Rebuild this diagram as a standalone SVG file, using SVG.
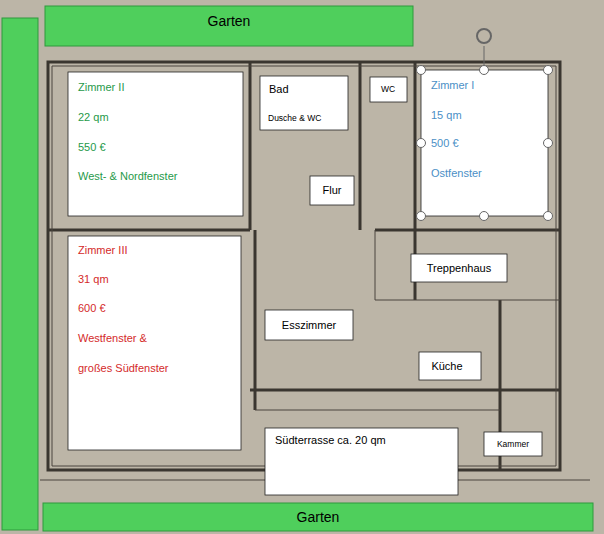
<svg xmlns="http://www.w3.org/2000/svg" width="604" height="534" viewBox="0 0 604 534">
<style>
text{font-family:"Liberation Sans",Arial,sans-serif;font-size:11px;fill:#000}
text.s{font-size:8.5px}
text.l{font-size:14px}
.g{fill:#4fcf5c;stroke:#2f9a3c;stroke-width:1}
.b{fill:#fff;stroke:#222;stroke-width:0.8}
.wall{fill:none;stroke:#3a3630;stroke-width:3}
.thin{fill:none;stroke:#4a453e;stroke-width:1}
.gr{fill:#1f9a4a}.bl{fill:#4b8fc6}.rd{fill:#d42a2a}
.h{fill:#fff;stroke:#666;stroke-width:1}
</style>
<rect width="604" height="534" fill="#bcb5a7"/>
<g id="plan">
<path class="wall" d="M48 62H560V470H48Z"/>
<path class="wall" d="M250 62V230M250 230H48M360 62V230M250 390H560M415 62V300M375 230H560M255 230V410M500 300V470"/>
<path class="thin" d="M52 66H556V466H52ZM375 230V300H560M40 480H590M255 410H500"/>
</g>
<g id="garten-links"><rect class="g" x="2" y="18" width="36" height="512"/></g>
<g id="garten-oben"><rect class="g" x="45" y="6" width="368" height="40"/><text class="l" x="229" y="26" text-anchor="middle">Garten</text></g>
<g id="garten-unten"><rect class="g" x="43" y="503" width="550" height="28"/><text class="l" x="318" y="522" text-anchor="middle">Garten</text></g>
<g id="zimmer2"><rect class="b" x="68" y="72" width="175" height="144"/>
<text class="gr" x="78" y="91">Zimmer II</text><text class="gr" x="78" y="121">22 qm</text><text class="gr" x="78" y="151">550 €</text><text class="gr" x="78" y="180">West- &amp; Nordfenster</text></g>
<g id="bad"><rect class="b" x="260" y="76" width="88" height="54"/><text x="269" y="93">Bad</text><text class="s" x="268" y="121">Dusche &amp; WC</text></g>
<g id="wc"><rect class="b" x="370" y="77" width="37" height="25"/><text class="s" x="388" y="92" text-anchor="middle">WC</text></g>
<g id="zimmer1"><rect class="b" x="421" y="70" width="127" height="146"/>
<text class="bl" x="431" y="89">Zimmer I</text><text class="bl" x="431" y="119">15 qm</text><text class="bl" x="431" y="147">500 €</text><text class="bl" x="431" y="177">Ostfenster</text>
<path d="M484 70V46" stroke="#666"/>
<circle cx="484" cy="36" r="7" fill="none" stroke="#666" stroke-width="2"/>
<circle class="h" cx="421" cy="70" r="4.5"/><circle class="h" cx="484" cy="70" r="4.5"/><circle class="h" cx="548" cy="70" r="4.5"/>
<circle class="h" cx="421" cy="143" r="4.5"/><circle class="h" cx="548" cy="143" r="4.5"/>
<circle class="h" cx="421" cy="216" r="4.5"/><circle class="h" cx="484" cy="216" r="4.5"/><circle class="h" cx="548" cy="216" r="4.5"/></g>
<g id="flur"><rect class="b" x="310" y="176" width="44" height="29"/><text x="332" y="194" text-anchor="middle">Flur</text></g>
<g id="zimmer3"><rect class="b" x="68" y="236" width="173" height="214"/>
<text class="rd" x="78" y="254">Zimmer III</text><text class="rd" x="78" y="283">31 qm</text><text class="rd" x="78" y="312">600 €</text><text class="rd" x="78" y="342">Westfenster &amp;</text><text class="rd" x="78" y="372">großes Südfenster</text></g>
<g id="treppenhaus"><rect class="b" x="411" y="254" width="96" height="28"/><text x="459" y="272" text-anchor="middle">Treppenhaus</text></g>
<g id="esszimmer"><rect class="b" x="265" y="310" width="88" height="30"/><text x="309" y="329" text-anchor="middle">Esszimmer</text></g>
<g id="kueche"><rect class="b" x="419" y="352" width="62" height="28"/><text x="447" y="370" text-anchor="middle">Küche</text></g>
<g id="suedterrasse"><rect class="b" x="265" y="428" width="193" height="67"/><text x="275" y="444">Südterrasse ca. 20 qm</text></g>
<g id="kammer"><rect class="b" x="484" y="432" width="58" height="24"/><text class="s" x="513" y="447" text-anchor="middle">Kammer</text></g>
<g id="connectors"/>
</svg>
